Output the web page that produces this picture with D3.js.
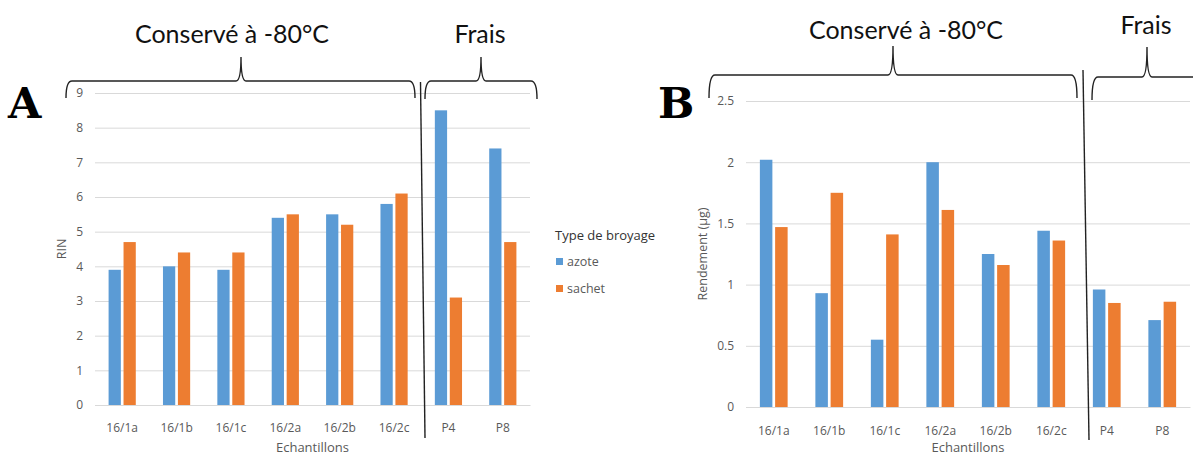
<!DOCTYPE html>
<html>
<head>
<meta charset="utf-8">
<script src="https://cdnjs.cloudflare.com/ajax/libs/d3/7.8.5/d3.min.js"></script>
<style>
    body { margin: 0; background: #fff; }
    text { font-family: "Open Sans", Lato, sans-serif; }
</style>
</head>
<body>
<div id="figure"></div>
<script>
// samples (x axis)
var samples = ["16/1a", "16/1b", "16/1c", "16/2a", "16/2b", "16/2c", "P4", "P8"];
var series = ["azote", "sachet"];

// A : RIN
var rinAzote = [3.9, 4.0, 3.9, 5.4, 5.5, 5.8, 8.5, 7.4];
var rinSachet = [4.7, 4.4, 4.4, 5.5, 5.2, 6.1, 3.1, 4.7];
var rinTicks = [0, 1, 2, 3, 4, 5, 6, 7, 8, 9];

// B : Rendement (µg)
var rendAzote = [2.02, 0.93, 0.55, 2.00, 1.25, 1.44, 0.96, 0.71];
var rendSachet = [1.47, 1.75, 1.41, 1.61, 1.16, 1.36, 0.85, 0.86];
var rendTicks = [0, 0.5, 1, 1.5, 2, 2.5];

var colour = d3.scaleOrdinal().domain(series).range(["#5b9bd5", "#ed7d31"]);

var svg = d3.select("#figure").append("svg")
    .attr("width", 1193)
    .attr("height", 455);

function drawPanel(opts) {
    var x0 = d3.scaleBand()
        .domain(samples)
        .range([opts.left, opts.right])
        .paddingInner(0.5)
        .paddingOuter(0.25);
    var x1 = d3.scaleBand()
        .domain(series)
        .range([0, x0.bandwidth()])
        .paddingInner(0.18);
    var y = d3.scaleLinear()
        .domain([0, opts.ticks[opts.ticks.length - 1]])
        .range([opts.bottom, opts.top]);

    var g = svg.append("g");

    // gridlines + y labels
    var yAxis = d3.axisLeft(y)
        .tickValues(opts.ticks)
        .tickSize(-(opts.right - opts.left))
        .tickPadding(12)
        .tickFormat(d3.format("~g"));
    g.append("g")
        .attr("transform", "translate(" + opts.left + ",0)")
        .call(yAxis)
        .call(function(a) {
            a.select(".domain").remove();
            a.selectAll("line").attr("stroke", "#d9d9d9");
            a.selectAll("text")
                .attr("fill", "#595959")
                .style("font-size", "12px");
        });

    var rows = samples.map(function(s, i) {
        return { sample: s, azote: opts.azote[i], sachet: opts.sachet[i] };
    });

    g.selectAll(".group")
        .data(rows)
        .enter().append("g")
        .attr("class", "group")
        .attr("transform", function(d) { return "translate(" + x0(d.sample) + ",0)"; })
        .selectAll("rect")
        .data(function(d) { return series.map(function(k) { return { key: k, value: d[k] }; }); })
        .enter().append("rect")
        .attr("x", function(d) { return x1(d.key); })
        .attr("y", function(d) { return y(d.value); })
        .attr("width", x1.bandwidth())
        .attr("height", function(d) { return opts.bottom - y(d.value); })
        .attr("fill", function(d) { return colour(d.key); });

    // x axis labels
    g.append("g")
        .attr("transform", "translate(0," + opts.bottom + ")")
        .call(d3.axisBottom(x0).tickSize(0).tickPadding(opts.xPad))
        .call(function(a) {
            a.select(".domain").attr("stroke", "#d9d9d9");
            a.selectAll("text")
                .attr("fill", "#595959")
                .style("font-size", "12px");
        });

    g.append("text")
        .attr("x", (opts.left + opts.right) / 2)
        .attr("y", 452)
        .attr("text-anchor", "middle")
        .attr("fill", "#595959")
        .style("font-size", "13px")
        .text("Echantillons");

    g.append("text")
        .attr("transform", "translate(" + opts.yLabelX + "," + ((opts.top + opts.bottom) / 2) + ") rotate(-90)")
        .attr("text-anchor", "middle")
        .attr("fill", "#595959")
        .style("font-size", "12.5px")
        .text(opts.yLabel);

    // panel letter
    svg.append("text")
        .attr("x", opts.letterX)
        .attr("y", 118)
        .style("font-family", "'DejaVu Serif', serif")
        .style("font-weight", "bold")
        .style("font-size", "43px")
        .attr("fill", "#000")
        .text(opts.letter);
}

function brace(x0, x1, xm, y, yEnd, yTip) {
    return "M" + x0 + "," + yEnd +
        " Q" + x0 + "," + y + " " + (x0 + 6) + "," + y +
        " L" + (xm - 5) + "," + y +
        " Q" + xm + "," + y + " " + xm + "," + yTip +
        " Q" + xm + "," + y + " " + (xm + 5) + "," + y +
        " L" + (x1 - 6) + "," + y +
        " Q" + x1 + "," + y + " " + x1 + "," + yEnd;
}

function drawGroup(label, b, tx, ty) {
    svg.append("path")
        .attr("d", brace(b[0], b[1], b[2], b[3], b[4], b[5]))
        .attr("fill", "none")
        .attr("stroke", "#222")
        .attr("stroke-width", 1.4);
    svg.append("text")
        .attr("x", tx)
        .attr("y", ty)
        .attr("text-anchor", "middle")
        .attr("fill", "#111")
        .style("font-family", "Lato, sans-serif")
        .style("font-size", "25px")
        .text(label);
}

drawPanel({
    letter: "A", letterX: 8,
    left: 95, right: 530, top: 93, bottom: 405,
    ticks: rinTicks, azote: rinAzote, sachet: rinSachet,
    yLabel: "RIN", yLabelX: 66, xPad: 18
});

drawPanel({
    letter: "B", letterX: 658,
    left: 746, right: 1190, top: 101, bottom: 407,
    ticks: rendTicks, azote: rendAzote, sachet: rendSachet,
    yLabel: "Rendement (µg)", yLabelX: 707, xPad: 19
});

// legend
var legend = svg.append("g").attr("transform", "translate(555,0)");
legend.append("text")
    .attr("x", 0)
    .attr("y", 240)
    .attr("fill", "#333")
    .style("font-size", "13px")
    .text("Type de broyage");
series.forEach(function(s, i) {
    legend.append("rect")
        .attr("x", 1)
        .attr("y", 258 + i * 27)
        .attr("width", 7)
        .attr("height", 7)
        .attr("fill", colour(s));
    legend.append("text")
        .attr("x", 12)
        .attr("y", 266 + i * 27)
        .attr("fill", "#595959")
        .style("font-size", "12.5px")
        .text(s);
});

// braces + group titles
drawGroup("Conservé à -80°C", [66, 415, 241, 81, 98, 57], 232, 43);
drawGroup("Frais", [425, 537, 481, 81, 99, 57], 480, 43);
drawGroup("Conservé à -80°C", [709, 1077, 893, 75, 98, 46], 906, 39);
drawGroup("Frais", [1092, 1203, 1147, 77, 100, 47], 1146, 34);

// separators between stored and fresh samples
svg.append("line")
    .attr("x1", 420.5).attr("y1", 82).attr("x2", 425).attr("y2", 438)
    .attr("stroke", "#222").attr("stroke-width", 1.4);
svg.append("line")
    .attr("x1", 1083).attr("y1", 70).attr("x2", 1089).attr("y2", 440)
    .attr("stroke", "#222").attr("stroke-width", 1.4);
</script>
</body>
</html>
